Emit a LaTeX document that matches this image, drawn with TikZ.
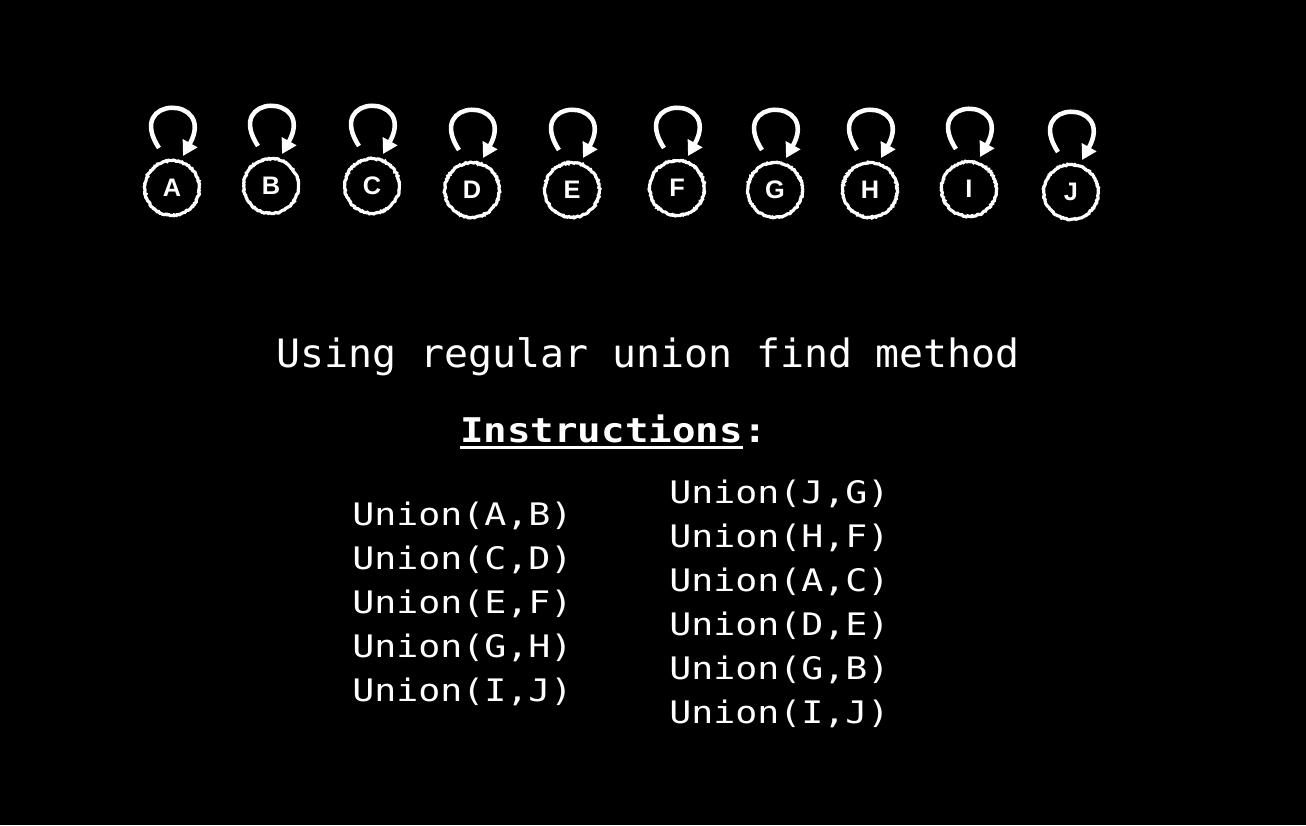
\documentclass[tikz,border=0pt]{standalone}
\usepackage{fontspec}
\setmonofont{DejaVu Sans Mono}
\newfontfamily\labfont{Liberation Sans}
\newfontfamily\codefont[FakeStretch=1.18]{DejaVu Sans Mono}
\newfontfamily\insfont[FakeStretch=1.15]{DejaVu Sans Mono}
\newfontfamily\titfont[FakeStretch=1.02]{DejaVu Sans Mono}
\usetikzlibrary{arrows.meta,decorations.pathmorphing}
\begin{document}
\begin{tikzpicture}[x=0.75pt,y=-0.75pt,
  vert/.style={circle, draw=white, line width=2.4pt, minimum size=41pt, inner sep=0pt,
    text=white, font=\labfont\bfseries\fontsize{19}{19}\selectfont,
    decorate, decoration={random steps, segment length=1pt, amplitude=0.5pt}},
  selfloop/.style={draw=white, line width=3.4pt, -{Triangle[length=11pt,width=12pt]}},
  codetxt/.style={text=white, inner sep=0pt, anchor=base west, font=\codefont\fontsize{23.25}{27}\selectfont},
  headtxt/.style={text=white, inner sep=0pt, anchor=base west, font=\titfont\fontsize{29.3}{34}\selectfont},
  instxt/.style={text=white, inner sep=0pt, anchor=base west, font=\insfont\bfseries\fontsize{25.5}{30}\selectfont}]
\fill[black] (0,0) rectangle (1306,825);
\useasboundingbox (0,0) rectangle (1306,825);
\foreach \n/\x/\y in {A/172/188, B/271/186, C/372/186, D/472/190, E/572/190, F/677/188, G/775/190, H/870/190, I/969/189, J/1071/192}{
  \node[vert] (\n) at (\x,\y) {\n};
  \draw[selfloop] ([shift={(-13,-40)}]\n.center) .. controls ([shift={(-48,-93)}]\n.center) and ([shift={(45,-93)}]\n.center) .. ([shift={(11,-32)}]\n.center);
}
\node[headtxt] (title) at (276,367) {Using regular union find method};
\node[instxt] (ins) at (460,442) {Instructions};
\node[instxt] (colon) at (ins.base east) {:};
\draw[white, line width=1.9pt] ([yshift=-4.1pt]ins.base west) -- ([yshift=-4.1pt]ins.base east);
\foreach \t [count=\i from 0] in {Union(A\char`\,B), Union(C\char`\,D), Union(E\char`\,F), Union(G\char`\,H), Union(I\char`\,J)}{
  \node[codetxt] (l\i) at (352,525+44*\i) {\t};
}
\foreach \t [count=\i from 0] in {Union(J\char`\,G), Union(H\char`\,F), Union(A\char`\,C), Union(D\char`\,E), Union(G\char`\,B), Union(I\char`\,J)}{
  \node[codetxt] (r\i) at (669,503+44*\i) {\t};
}
\end{tikzpicture}
\end{document}
